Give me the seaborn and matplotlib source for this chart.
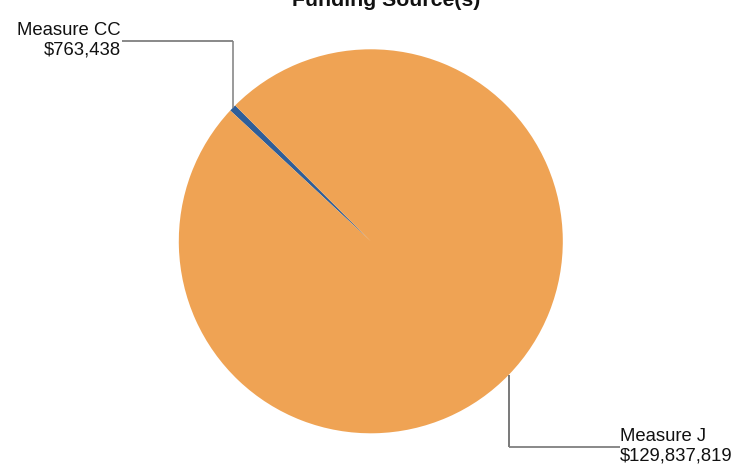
import numpy as np
import seaborn as sns
import matplotlib
matplotlib.use('Agg')
import matplotlib.pyplot as plt

# Funding sources
sources = ['Measure CC', 'Measure J']
amounts = [763438, 129837819]
amount_labels = ['$763,438', '$129,837,819']
colors = ['#2F5E99', '#EFA354']

sns.set_theme(style='white')
plt.rcParams['font.family'] = ['Liberation Sans', 'DejaVu Sans']

W, H = 750, 467
fig = plt.figure(figsize=(7.5, 4.67), dpi=100)
ax = fig.add_axes([0, 0, 1, 1])

cx, cy, r = 370.8, H - 241.3, 192
wedges, _ = ax.pie(amounts, colors=colors, startangle=134.95, counterclock=True,
                   center=(cx, cy), radius=r, wedgeprops=dict(linewidth=0))
ax.set_xlim(0, W)
ax.set_ylim(0, H)
ax.set_aspect('equal')
ax.axis('off')

# leader lines + labels (pixel-like coordinates, y measured up)
label_y = [H - 40.7, H - 446.7]
label_x = [121, 620]
line_col = ['#7f7f7f', '#555555']
for i, w in enumerate(wedges):
    mid = np.deg2rad((w.theta1 + w.theta2) / 2)
    ex, ey = cx + r * np.cos(mid), cy + r * np.sin(mid)
    ax.plot([ex, ex], [ey, label_y[i]], color=line_col[i], lw=1.1, solid_capstyle='butt')
    end_x = label_x[i] + 1 if i == 0 else label_x[i]
    ax.plot([ex, end_x], [label_y[i], label_y[i]], color='#7f7f7f', lw=1.3, solid_capstyle='butt')
    ax.text(label_x[i], label_y[i] + 0.5, f'{sources[i]}\n{amount_labels[i]}',
            ha='right' if i == 0 else 'left', va='center', fontsize=13.3,
            color='#111111', linespacing=1.15)

# title sits partly above the top edge, as in the original export
fig.text(386 / W, 1 - 6 / H, 'Funding Source(s)', ha='center', va='baseline',
         fontsize=15.3, fontweight='bold', color='#111111')

fig.savefig('out.png', dpi=100)
